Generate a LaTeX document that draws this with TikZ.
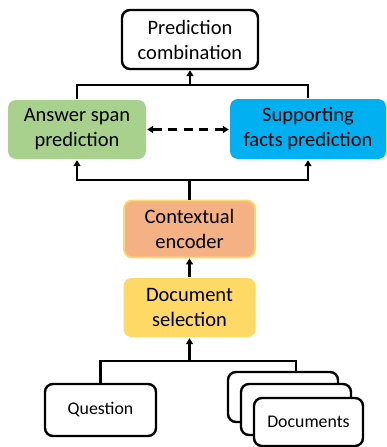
\documentclass[tikz,border=0pt]{standalone}
\usepackage{fontspec}
\setmainfont{Carlito}
\usetikzlibrary{arrows.meta}
\definecolor{cgreen}{HTML}{A9D18E}
\definecolor{cblue}{HTML}{00B0F0}
\definecolor{corange}{HTML}{F4B183}
\definecolor{cyellow}{HTML}{FFD966}
\begin{document}
\begin{tikzpicture}[x=1pt,y=-1pt,
  box/.style={rounded corners=8pt, align=center, inner sep=0pt, line width=2.4pt,
    font=\fontsize{20.5}{25}\selectfont},
  small/.style={rounded corners=8pt, align=center, inner sep=0pt, line width=2.4pt,
    draw=black, fill=white, font=\fontsize{17.8}{21}\selectfont},
  conn/.style={line width=2.6pt},
  arr/.style={line width=2.6pt, -{Triangle[length=6pt,width=7pt]}},
  darr/.style={line width=2.4pt, dash pattern=on 9pt off 6.5pt,
    {Triangle[length=6pt,width=7pt]}-{Triangle[length=6pt,width=7pt]}}
]
\useasboundingbox (0,0) rectangle (386,447);
\clip (0,0) rectangle (386,447);

\node[box, draw=black, fill=white, minimum width=136pt, minimum height=59pt] (pc) at (190,39.5) {Prediction\\combination};
\node[box, fill=cgreen, minimum width=138pt, minimum height=59pt] (asp) at (77,129.5) {Answer span\\prediction};
\node[box, fill=cblue, minimum width=156pt, minimum height=60pt] (sfp) at (308,129) {Supporting\\facts prediction};
\node[box, fill=corange, draw=cyellow, line width=1.8pt, minimum width=131pt, minimum height=57pt] (ce) at (189.5,229) {Contextual\\encoder};
\node[box, fill=cyellow, minimum width=132pt, minimum height=59pt] (ds) at (189.5,307.5) {Document\\selection};

\node[small, minimum width=111pt, minimum height=52pt] (q) at (100.5,410) {Question};
\node[small, minimum width=110pt, minimum height=50pt] (d1) at (283,397) {};
\node[small, minimum width=110pt, minimum height=51pt] (d2) at (296,409.5) {};
\node[small, minimum width=109pt, minimum height=48pt] (d3) at (308.5,422) {Documents};

% top joins
\coordinate (j1) at (190,85);
\draw[conn] (asp.north) |- (sfp.north |- j1) -- (sfp.north);
\draw[arr] (j1) -- (pc.south);

\draw[darr] (asp.east) -- (sfp.west |- asp.east);

\coordinate (j2) at (189.5,180);
\draw[conn] (ce.north) -- (j2);
\draw[arr] (j2) -| (asp.south);
\draw[arr] (j2) -| (sfp.south);

\draw[arr] (ds.north) -- (ce.south);

\coordinate (j3) at (189.5,361);
\draw[arr] (j3) -- (ds.south);
\draw[conn] (j3) -| (q.north);
\draw[conn] (j3) -| (d1.north -| d2.north);
\end{tikzpicture}
\end{document}
